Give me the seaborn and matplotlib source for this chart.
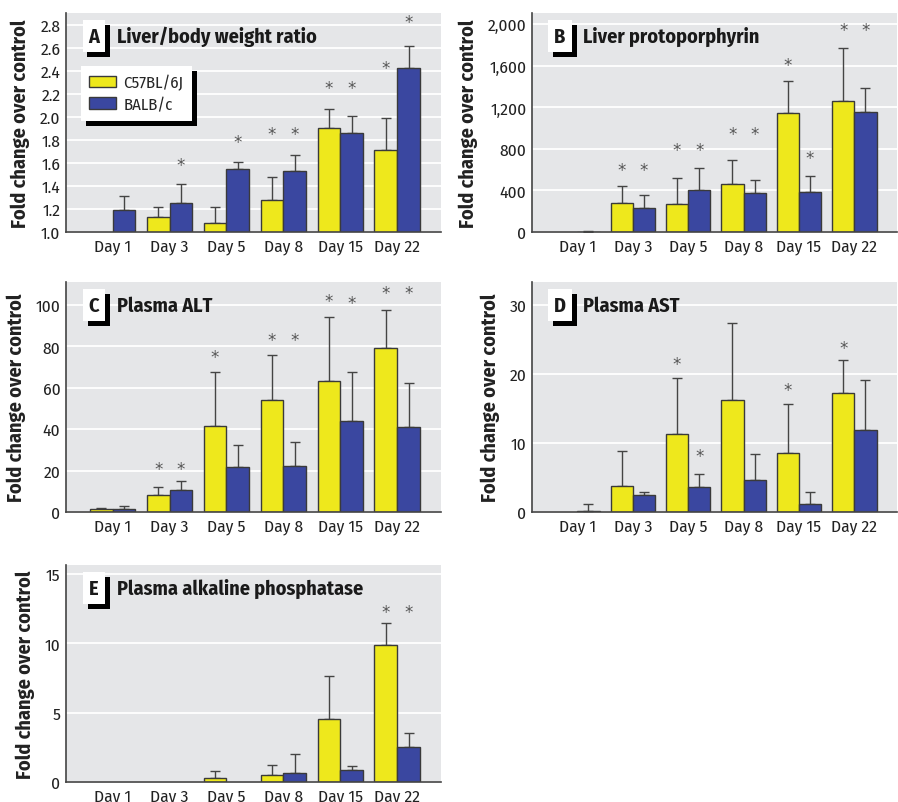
import numpy as np
import pandas as pd
import matplotlib
matplotlib.use('Agg')
import matplotlib.pyplot as plt
import matplotlib.patheffects as pe
from matplotlib.patches import Patch
from matplotlib.container import BarContainer
from matplotlib.ticker import FuncFormatter
import seaborn as sns

# --- dados ---
days = ['Day 1', 'Day 3', 'Day 5', 'Day 8', 'Day 15', 'Day 22']
strains = ['C57BL/6J', 'BALB/c']
nan = np.nan

# A: Liver/body weight ratio
a_c57 = [nan, 1.13, 1.08, 1.28, 1.90, 1.71]
a_c57_err = [nan, 0.09, 0.14, 0.20, 0.17, 0.28]
a_balb = [1.19, 1.25, 1.55, 1.53, 1.86, 2.42]
a_balb_err = [0.12, 0.17, 0.06, 0.14, 0.15, 0.19]
a_c57_star = [nan, nan, nan, 1.85, 2.25, 2.42]
a_balb_star = [nan, 1.58, 1.78, 1.85, 2.25, 2.82]

# B: Liver protoporphyrin
b_c57 = [nan, 283, 270, 466, 1149, 1262]
b_c57_err = [nan, 160, 250, 231, 308, 504]
b_balb = [5, 228, 408, 376, 382, 1159]
b_balb_err = [8, 128, 205, 125, 157, 228]
b_c57_star = [nan, 600, 790, 940, 1605, 1940]
b_balb_star = [nan, 600, 790, 940, 715, 1940]

# C: Plasma ALT
c_c57 = [1.5, 8.2, 41.3, 53.9, 63.2, 79.1]
c_c57_err = [0.6, 3.7, 26.4, 22.0, 30.8, 18.2]
c_balb = [1.5, 10.4, 21.9, 22.3, 43.7, 41.2]
c_balb_err = [1.4, 4.4, 10.3, 11.6, 24.0, 21.2]
c_c57_star = [nan, 21, 75, 83, 101.8, 105.6]
c_balb_star = [nan, 21, nan, 83, 100.8, 105.6]

# D: Plasma AST
d_c57 = [nan, 3.7, 11.3, 16.2, 8.6, 17.2]
d_c57_err = [nan, 5.2, 8.1, 11.2, 7.0, 4.8]
d_balb = [0.2, 2.5, 3.6, 4.6, 1.1, 11.9]
d_balb_err = [0.9, 0.4, 1.9, 3.8, 1.75, 7.2]
d_c57_star = [nan, nan, 21.5, nan, 17.6, 23.8]
d_balb_star = [nan, nan, 8.1, nan, nan, nan]

# E: Plasma alkaline phosphatase
e_c57 = [nan, nan, 0.29, 0.5, 4.58, 9.86]
e_c57_err = [nan, nan, 0.53, 0.7, 3.1, 1.6]
e_balb = [nan, nan, nan, 0.62, 0.89, 2.52]
e_balb_err = [nan, nan, nan, 1.4, 0.26, 1.0]
e_c57_star = [nan, nan, nan, nan, nan, 12.25]
e_balb_star = [nan, nan, nan, nan, nan, 12.25]

# --- estilo ---
YELLOW = '#EEE81C'
BLUE = '#3A47A0'
EDGE = '#3a3a3a'
BG = '#E5E6E8'
NARROW = ['Fira Sans Condensed', 'PT Sans Narrow', 'Roboto Condensed',
          'Liberation Sans', 'DejaVu Sans']

sns.set_theme(style='white')
plt.rcParams['font.family'] = NARROW

panels = [
    dict(letter='A', title='Liver/body weight ratio', pos=[0.0735, 0.7098, 0.4176, 0.2727],
         vals=(a_c57, a_balb), errs=(a_c57_err, a_balb_err), stars=(a_c57_star, a_balb_star),
         ylim=(1.0, 2.9), ticks=np.arange(1.0, 2.81, 0.2), fmt='{:.1f}', legend=True),
    dict(letter='B', title='Liver protoporphyrin', pos=[0.5924, 0.7098, 0.4065, 0.2727],
         vals=(b_c57, b_balb), errs=(b_c57_err, b_balb_err), stars=(b_c57_star, b_balb_star),
         ylim=(0, 2106), ticks=np.arange(0, 2001, 400), fmt='{:,.0f}', legend=False),
    dict(letter='C', title='Plasma ALT', pos=[0.0735, 0.3611, 0.4176, 0.2864],
         vals=(c_c57, c_balb), errs=(c_c57_err, c_balb_err), stars=(c_c57_star, c_balb_star),
         ylim=(0, 111), ticks=np.arange(0, 101, 20), fmt='{:.0f}', legend=False),
    dict(letter='D', title='Plasma AST', pos=[0.5924, 0.3611, 0.4065, 0.2864],
         vals=(d_c57, d_balb), errs=(d_c57_err, d_balb_err), stars=(d_c57_star, d_balb_star),
         ylim=(0, 33.3), ticks=np.arange(0, 31, 10), fmt='{:.0f}', legend=False),
    dict(letter='E', title='Plasma alkaline phosphatase', pos=[0.0735, 0.0249, 0.4176, 0.2702],
         vals=(e_c57, e_balb), errs=(e_c57_err, e_balb_err), stars=(e_c57_star, e_balb_star),
         ylim=(0, 15.65), ticks=np.arange(0, 16, 5), fmt='{:.0f}', legend=False),
]

shadow = [pe.SimplePatchShadow(offset=(3.5, -3.5), shadow_rgbFace='black', alpha=1), pe.Normal()]

fig = plt.figure(figsize=(8.98, 8.03), dpi=100)

for p in panels:
    ax = fig.add_axes(p['pos'])
    ax.set_facecolor(BG)
    df = pd.DataFrame({
        'day': days * 2,
        'strain': [strains[0]] * 6 + [strains[1]] * 6,
        'value': list(p['vals'][0]) + list(p['vals'][1]),
    })
    sns.barplot(data=df, x='day', y='value', hue='strain', order=days, hue_order=strains,
                palette=[YELLOW, BLUE], saturation=1, errorbar=None, edgecolor=EDGE,
                linewidth=1, width=0.8, legend=False, ax=ax, zorder=2)

    # barras de erro (so para cima) e asteriscos
    bar_conts = [c for c in ax.containers if isinstance(c, BarContainer)]
    for h, cont in enumerate(bar_conts):
        for bar in cont:
            ht = bar.get_height()
            if not np.isfinite(ht):
                continue
            cx = bar.get_x() + bar.get_width() / 2
            i = int(round(cx))
            e = p['errs'][h][i]
            if np.isfinite(e):
                ax.errorbar(cx, ht, yerr=[[0], [e]], fmt='none', ecolor='#444444',
                            elinewidth=1, capsize=3.5, capthick=1, zorder=1)
            s = p['stars'][h][i]
            if np.isfinite(s):
                ax.text(cx, s, '*', ha='center', va='center', fontsize=12,
                        color='#555555', family='DejaVu Sans', zorder=3)

    ax.set_xlim(-0.82, 5.77)
    ax.set_ylim(*p['ylim'])
    ax.set_yticks(p['ticks'])
    fmt = p['fmt']
    ax.yaxis.set_major_formatter(FuncFormatter(lambda v, _, f=fmt: f.format(v)))
    ax.grid(axis='y', color='white', linewidth=1.3, zorder=0)
    ax.set_axisbelow(True)
    for side in ['top', 'right']:
        ax.spines[side].set_visible(False)
    for side in ['left', 'bottom']:
        ax.spines[side].set_color('#444444')
        ax.spines[side].set_linewidth(1.2)
    ax.tick_params(axis='both', length=0, labelsize=12.5, colors='#222222', pad=4)
    ax.set_xlabel('')
    ax.set_ylabel('Fold change over control', fontsize=14.5, fontweight='bold',
                  color='#222222', labelpad=7)

    t = ax.annotate(p['letter'], xy=(0, 1), xycoords='axes fraction', xytext=(28, -23),
                    textcoords='offset pixels', ha='center', va='center', fontsize=14.5,
                    fontweight='bold', color='#1a1a1a',
                    bbox=dict(boxstyle='square,pad=0.3', fc='white', ec='none'))
    t.get_bbox_patch().set_path_effects(shadow)
    ax.annotate(p['title'], xy=(0, 1), xycoords='axes fraction', xytext=(51, -23),
                textcoords='offset pixels', ha='left', va='center', fontsize=14.5,
                fontweight='bold', color='#1a1a1a')

    if p['legend']:
        handles = [Patch(facecolor=YELLOW, edgecolor=EDGE, linewidth=1),
                   Patch(facecolor=BLUE, edgecolor=EDGE, linewidth=1)]
        leg = ax.legend(handles, strains, loc='upper left', bbox_to_anchor=(0.04, 0.758),
                        borderaxespad=0, fancybox=False, framealpha=1, edgecolor='none',
                        facecolor='white', fontsize=12, handlelength=1.6,
                        handleheight=0.7, handletextpad=0.45, labelspacing=0.35,
                        borderpad=0.5)
        leg.get_frame().set_path_effects(shadow)

fig.savefig('out.png', dpi=100)
